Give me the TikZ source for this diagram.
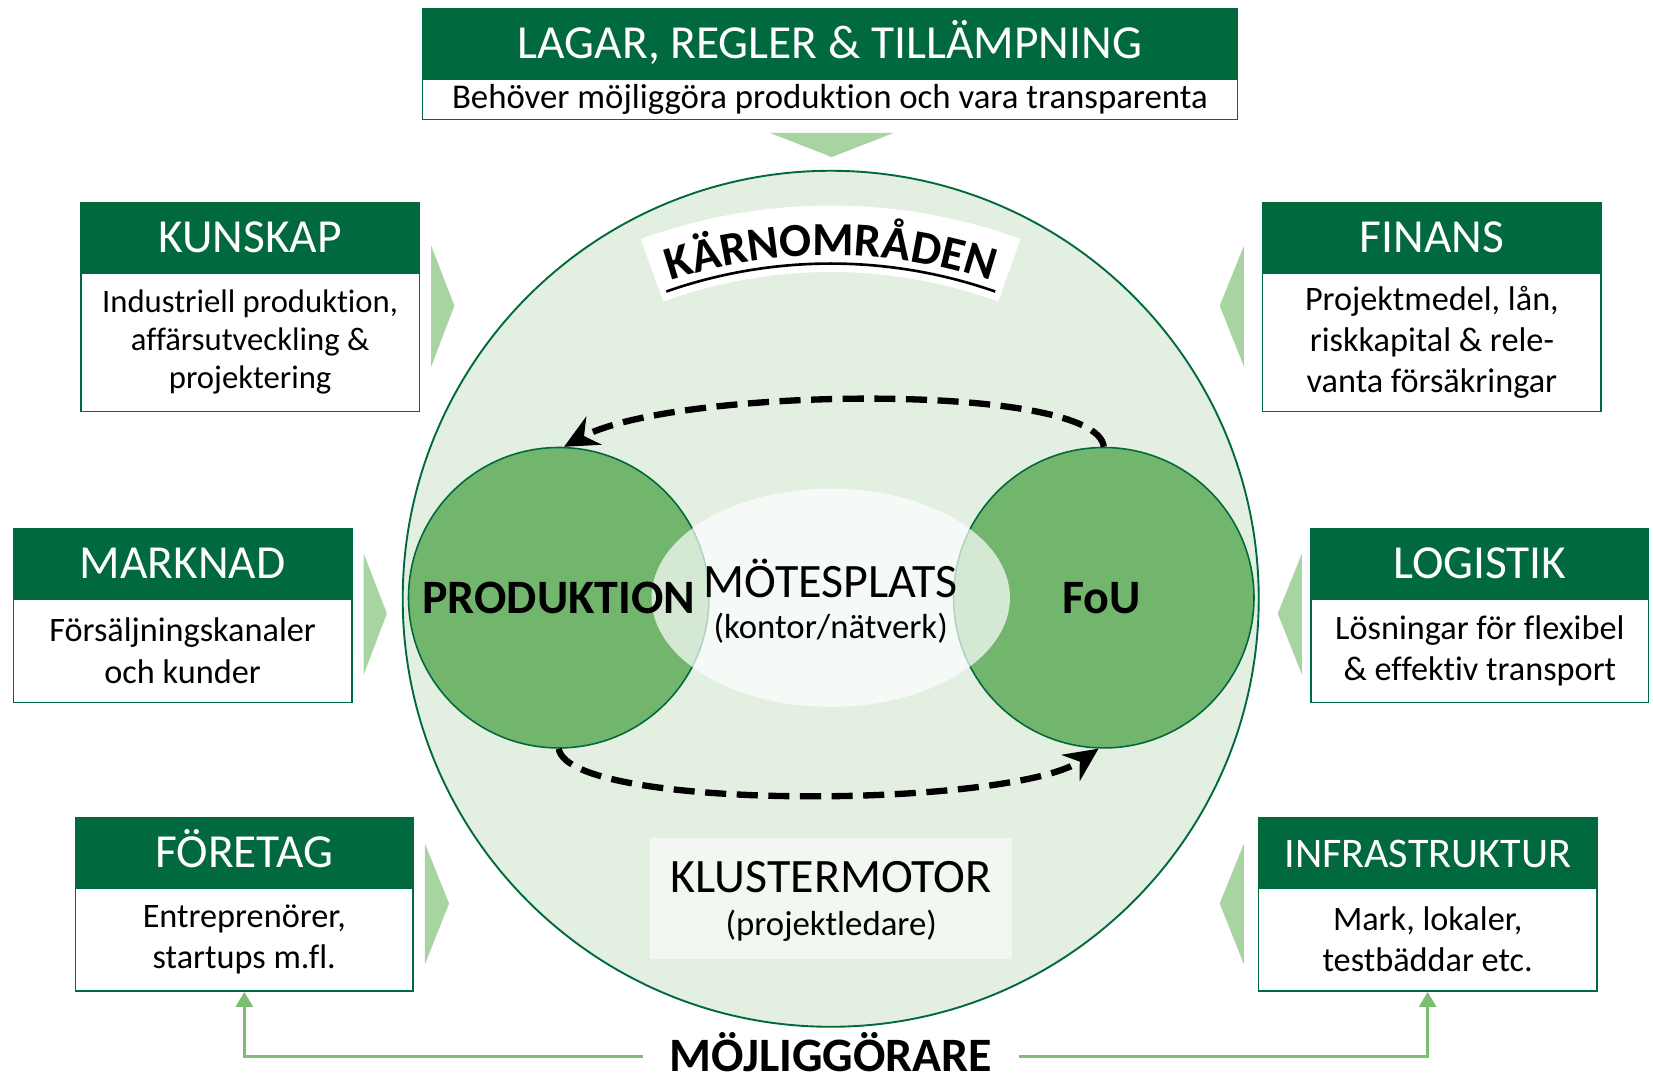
\documentclass[tikz,border=0pt]{standalone}
\usepackage{fontspec}
\setmainfont{Carlito}[Ligatures=CommonOff]
\usetikzlibrary{shapes.geometric,arrows.meta,decorations.text,calc}
\definecolor{dkgreen}{HTML}{00693E}
\definecolor{bgcirc}{HTML}{E3EFE1}
\definecolor{midgreen}{HTML}{72B56C}
\definecolor{trigreen}{HTML}{A8D4A2}
\definecolor{linegreen}{HTML}{7DBE74}
\definecolor{klbox}{HTML}{F2F8F1}
\begin{document}
\begin{tikzpicture}[x=1pt,y=1pt,
  hdr/.style={draw=dkgreen, fill=dkgreen, text=white, line width=1.5pt, minimum height=65pt, inner sep=0pt,
    font=\fontsize{45}{50}\selectfont, text height=29pt, text depth=0pt, anchor=north west},
  bodyb/.style={draw=dkgreen, fill=white, line width=1.5pt, inner sep=0pt, align=center,
    font=\fontsize{32.5}{39}\selectfont, anchor=north},
  tri/.style={fill=trigreen, draw=none},
  bigtxt/.style={font=\fontsize{45.5}{46}\selectfont\bfseries, inner sep=0pt},
  midtxt/.style={font=\fontsize{45.5}{46}\selectfont, inner sep=0pt},
  subtxt/.style={font=\fontsize{33}{36}\selectfont, inner sep=0pt},
  cycle arrow/.style={line width=6pt, dash pattern=on 20pt off 10pt, -{Stealth[length=32pt,width=30pt]}},
  conn/.style={draw=linegreen, line width=2.5pt, -{Triangle[length=14pt,width=16pt]}}
]
\useasboundingbox (0,0) rectangle (1568,1022);

% central circle
\node[circle, draw=dkgreen, fill=bgcirc, line width=1.8pt, minimum size=812pt, inner sep=0pt] (core) at (788,454) {};

% KÄRNOMRÅDEN arc
\coordinate (kc) at (788,300);
\draw[white, line width=63pt] ([shift={(110:495.5)}]kc) arc[start angle=110, end angle=70, radius=495.5];
\path[decorate, decoration={text along path, text align=center,
  text={|\fontsize{45}{45}\selectfont\bfseries|KÄRNOMRÅDEN}}]
  ([shift={(115:480)}]kc) arc[start angle=115, end angle=65, radius=480];
\draw[line width=2.5pt] ([shift={(109.3:472)}]kc) arc[start angle=109.3, end angle=70.7, radius=472];

% core areas
\node[circle, draw=dkgreen, fill=midgreen, line width=1.5pt, minimum size=285pt, inner sep=0pt] (prod) at (530,455) {};
\node[circle, draw=dkgreen, fill=midgreen, line width=1.5pt, minimum size=285pt, inner sep=0pt] (fou) at (1047,455) {};
\node[ellipse, fill=white, fill opacity=0.7, minimum width=340pt, minimum height=207pt, inner sep=0pt] (mote) at (788,455) {};
\node[midtxt] (motetxt) at (788,473) {MÖTESPLATS};
\node[subtxt] (motesub) at (788,426) {(kontor/nätverk)};
\node[bigtxt] (prodlbl) at (530,455) {PRODUKTION};
\node[bigtxt] (foulbl) at (1045,455) {FoU};

% cycle arrows
\draw[cycle arrow] (fou.north) .. controls (1040,660) and (640,655) .. (prod.88);
\draw[cycle arrow] (prod.south) .. controls (540,252) and (960,255) .. (fou.268);

% klustermotor
\node[fill=klbox, minimum width=343pt, minimum height=115pt, inner sep=0pt] (klust) at (788.5,169.5) {};
\node[midtxt] (klusttxt) at (788.5,190) {KLUSTERMOTOR};
\node[subtxt] (klustsub) at (788.5,144) {(projektledare)};

% top box
\node[hdr, minimum width=773pt] (lagH) at (400,1014) {LAGAR, REGLER \& TILLÄMPNING};
\node[bodyb, minimum width=773pt, minimum height=38pt, font=\fontsize{33}{38}\selectfont] (lagB) at (lagH.south) {Behöver möjliggöra produktion och vara transparenta};
\fill[tri] (730,896) -- (848,896) -- (789,873) -- cycle;

% left boxes
\node[hdr, minimum width=321pt] (kunH) at (76,830) {KUNSKAP};
\node[bodyb, minimum width=321pt, minimum height=131pt, font=\fontsize{31}{36}\selectfont] (kunB) at (kunH.south) {Industriell produktion,\\affärsutveckling \&\\projektering};
\fill[tri] (409,789) -- (409,674) -- (431,732) -- cycle;

\node[hdr, minimum width=321pt] (marH) at (12,521) {MARKNAD};
\node[bodyb, minimum width=321pt, minimum height=98pt] (marB) at (marH.south) {Försäljningskanaler\\och kunder};
\fill[tri] (345,497) -- (345,382) -- (367,440) -- cycle;

\node[hdr, minimum width=320pt] (forH) at (71,247) {FÖRETAG};
\node[bodyb, minimum width=320pt, minimum height=98pt] (forB) at (forH.south) {Entreprenörer,\\startups m.fl.};
\fill[tri] (403,222) -- (403,107) -- (426,165) -- cycle;

% right boxes
\node[hdr, minimum width=321pt] (finH) at (1197,830) {FINANS};
\node[bodyb, minimum width=321pt, minimum height=131pt] (finB) at (finH.south) {Projektmedel, lån,\\riskkapital \& rele-\\vanta försäkringar};
\fill[tri] (1180,789) -- (1180,674) -- (1157,732) -- cycle;

\node[hdr, minimum width=320pt] (logH) at (1243,521) {LOGISTIK};
\node[bodyb, minimum width=320pt, minimum height=98pt] (logB) at (logH.south) {Lösningar för flexibel\\\& effektiv transport};
\fill[tri] (1235,497) -- (1235,382) -- (1212,440) -- cycle;

\node[hdr, minimum width=321pt, font=\fontsize{40}{44}\selectfont] (infH) at (1193,247) {INFRASTRUKTUR};
\node[bodyb, minimum width=321pt, minimum height=98pt] (infB) at (infH.south) {Mark, lokaler,\\testbäddar etc.};
\fill[tri] (1180,222) -- (1180,107) -- (1157,165) -- cycle;

% enablers
\node[bigtxt, inner xsep=25pt, text height=29pt, text depth=0pt] (moj) at (788,20) {MÖJLIGGÖRARE};
\draw[conn] (moj.west) -| (forB.south);
\draw[conn] (moj.east) -| (infB.south);
\end{tikzpicture}
\end{document}
